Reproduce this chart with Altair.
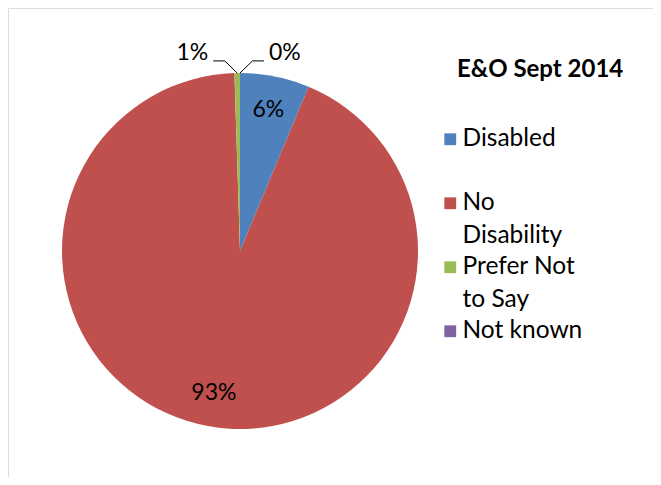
import math
import altair as alt
import pandas as pd

# ---------------- data ----------------
categories = ["Disabled", "No Disability", "Prefer Not to Say", "Not known"]
values = [6.3, 93.2, 0.5, 0.0]
colors = ["#4F81BD", "#C0504D", "#9BBB59", "#8064A2"]
legend_wrap = {"No Disability": ["No", "Disability"],
               "Prefer Not to Say": ["Prefer Not", "to Say"]}
title_text = "E&O Sept 2014"

# ---------------- style / layout constants ----------------
W, H = 660, 484
CLIP = 15
CX, CY, R = 232, 243, 178
FONT = "Lato"
FS = 23
LEG_FS = 24.5
ELBOW_DX, ELBOW_DY, TAIL = 0.07, 0.068, 0.065
SMALL = 0.02

total = sum(values)
pct = [f"{int(v / total * 100 + 0.5)}%" for v in values]

df = pd.DataFrame({
    "cat": categories,
    "value": values,
    "order": list(range(len(categories))),
    "inside": [p if v / total >= SMALL else "" for p, v in zip(pct, values)],
})

# leader lines & outside labels for small slices, derived from slice angles
line_rows, lab_rows = [], []
cum = 0.0
small = []
for c, v, p in zip(categories, values, pct):
    start = cum
    cum += v
    if v / total < SMALL:
        small.append((c, (start + v / 2) / total * 2 * math.pi, p))
for k, (c, mid, p) in enumerate(small):
    side = -1 if k == 0 else 1
    ex, ey = math.sin(mid), math.cos(mid)
    bx, by = ex + side * ELBOW_DX, ey + ELBOW_DY
    tx, ty = bx + side * TAIL, by
    for s, (px, py) in enumerate([(ex, ey), (bx, by), (tx, ty)]):
        line_rows.append({"cat": c, "seq": s, "px": px, "py": py})
    lab_rows.append({"cat": c, "px": tx, "py": ty, "label": p,
                     "side": "left" if side < 0 else "right"})
lines_df = pd.DataFrame(line_rows)
labs_df = pd.DataFrame(lab_rows)

xs = alt.Scale(domain=[-1, 1], range=[CX - R, CX + R], nice=False, zero=False)
ys = alt.Scale(domain=[-1, 1], range=[CY + R, CY - R], nice=False, zero=False)

label_expr = " : ".join(
    [f"datum.label == '{k}' ? {v!r}" for k, v in legend_wrap.items()]
) + " : datum.label"

base = alt.Chart(df).encode(
    theta=alt.Theta("value:Q", stack=True),
    order=alt.Order("order:Q"),
)

pie = base.mark_arc(outerRadius=R).encode(
    x=alt.value(CX), y=alt.value(CY),
    color=alt.Color(
        "cat:N",
        scale=alt.Scale(domain=categories, range=colors),
        legend=alt.Legend(
            title=None, orient="none", legendX=430, legendY=119,
            symbolType="square", symbolSize=140, symbolStrokeWidth=0,
            labelFont=FONT, labelFontSize=LEG_FS, labelColor="black",
            labelLimit=300, labelOffset=0, labelExpr=label_expr,
            gridAlign="all", rowPadding=6, padding=0,
        ),
    ),
)

inside = base.mark_text(radius=144, font=FONT, fontSize=FS, color="black").encode(
    x=alt.value(CX), y=alt.value(CY), text="inside:N",
)

leaders = alt.Chart(lines_df).mark_line(color="black", strokeWidth=1).encode(
    x=alt.X("px:Q", scale=xs, axis=None),
    y=alt.Y("py:Q", scale=ys, axis=None),
    detail="cat:N",
    order="seq:Q",
)

lab_left = alt.Chart(labs_df).transform_filter("datum.side == 'left'").mark_text(
    align="right", baseline="middle", dx=-5, dy=-8, font=FONT, fontSize=FS, color="black"
).encode(x=alt.X("px:Q", scale=xs, axis=None), y=alt.Y("py:Q", scale=ys, axis=None), text="label:N")

lab_right = alt.Chart(labs_df).transform_filter("datum.side == 'right'").mark_text(
    align="left", baseline="middle", dx=5, dy=-8, font=FONT, fontSize=FS, color="black"
).encode(x=alt.X("px:Q", scale=xs, axis=None), y=alt.Y("py:Q", scale=ys, axis=None), text="label:N")

chart = alt.layer(pie, inside, leaders, lab_left, lab_right).properties(
    width=W, height=H,
    padding={"left": 0, "top": 0, "right": -CLIP, "bottom": -CLIP},
    autosize=alt.AutoSizeParams(type="none"),
    title=alt.Title(title_text, anchor="start", frame="group", font=FONT, fontSize=24,
                    fontWeight="bold", color="black", dx=449, dy=74, offset=0),
).configure_view(stroke="#888888", strokeWidth=1).configure(
    style={"guide-label": {"lineHeight": 33}}
)

chart.save("out.html", embed_options={"renderer": "svg", "actions": False})
